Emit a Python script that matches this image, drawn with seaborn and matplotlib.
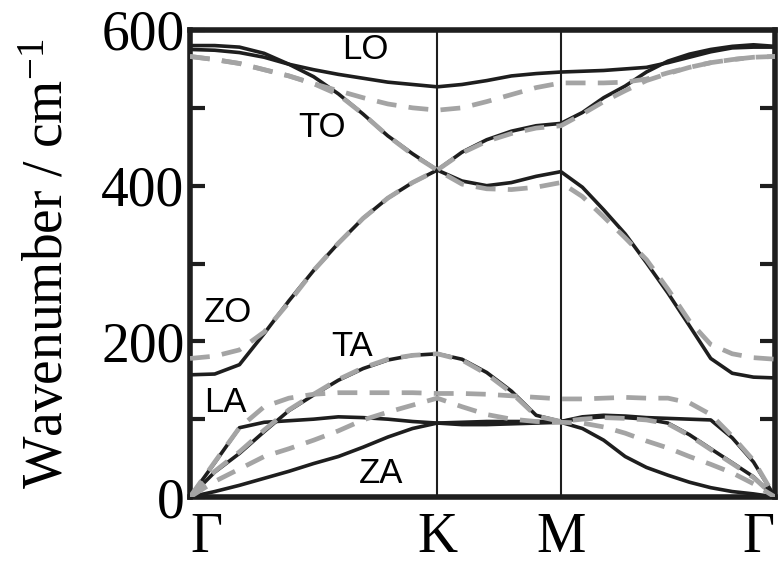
import matplotlib
matplotlib.use("Agg")
import matplotlib.pyplot as plt
import pandas as pd
import seaborn as sns

# Wave-vector path coordinate: Gamma -> K (0..1), K -> M (1..1.5), M -> Gamma (1.5..2.366)
q = [0.0, 0.1, 0.2, 0.3, 0.4, 0.5, 0.6, 0.7, 0.8, 0.9, 1.0,
     1.1, 1.2, 1.3, 1.4, 1.5,
     1.587, 1.673, 1.76, 1.846, 1.933, 2.02, 2.106, 2.193, 2.279, 2.366]

# Phonon branches (cm^-1), first calculation (solid)
za_solid = [0, 7, 15, 24, 33, 43, 52, 64, 77, 88, 95,
            93, 93, 94, 95, 96,
            88, 73, 52, 38, 28, 19, 12, 7, 4, 0]
ta_solid = [0, 32, 56, 84, 111, 131, 150, 165, 176, 182, 184,
            177, 160, 136, 105, 97,
            101, 103, 102, 100, 95, 80, 62, 44, 26, 0]
la_solid = [0, 44, 89, 96, 98, 100, 103, 102, 100, 97, 95,
            96, 97, 97, 97, 97,
            103, 105, 104, 102, 101, 100, 99, 76, 45, 0]
zo_solid = [157, 158, 170, 210, 252, 291, 326, 358, 384, 404, 420,
            443, 459, 470, 477, 480,
            494, 513, 528, 546, 560, 569, 575, 579, 581, 579]
to_solid = [580, 580, 578, 570, 556, 540, 518, 492, 464, 441, 420,
            406, 400, 404, 412, 418,
            398, 369, 338, 301, 262, 220, 178, 159, 154, 153]
lo_solid = [575, 574, 571, 565, 556, 549, 543, 538, 533, 530, 527,
            530, 535, 541, 544, 546,
            547, 548, 550, 552, 558, 565, 572, 577, 578, 578]

# Phonon branches (cm^-1), second calculation (dashed)
za_dashed = [0, 20, 36, 52, 62, 73, 85, 99, 109, 118, 127,
             116, 106, 100, 97, 96,
             95, 90, 82, 72, 63, 52, 42, 31, 17, 0]
ta_dashed = [0, 33, 58, 86, 112, 132, 151, 166, 177, 182, 184,
             176, 158, 134, 104, 97,
             100, 102, 101, 99, 94, 79, 61, 43, 25, 0]
la_dashed = [0, 45, 89, 116, 127, 132, 134, 134, 134, 134, 133,
             133, 132, 130, 128, 126,
             126, 127, 128, 127, 127, 121, 106, 78, 47, 0]
zo_dashed = [178, 181, 189, 212, 250, 291, 326, 358, 384, 404, 420,
             442, 457, 467, 474, 477,
             492, 508, 522, 535, 544, 552, 558, 562, 565, 566]
to_dashed = [566, 562, 557, 549, 541, 531, 517, 492, 464, 440, 420,
             402, 396, 395, 398, 404,
             386, 360, 333, 305, 267, 226, 196, 184, 179, 177]
lo_dashed = [566, 562, 557, 549, 541, 531, 522, 513, 505, 500, 497,
             500, 508, 517, 526, 532,
             532, 532, 533, 537, 545, 552, 558, 562, 565, 566]

path_ticks = [0.0, 1.0, 1.5, 2.366]
path_labels = ["Γ", "K", "M", "Γ"]

branch_names = ["ZO", "TA", "LA", "ZA", "TO", "LO"]
label_q = [0.154, 0.656, 0.142, 0.773, 0.534, 0.709]
label_freq = [237, 193, 122, 30, 475, 575]


def to_frame(branches):
    parts = []
    for name, vals in branches.items():
        parts.append(pd.DataFrame({"q": q, "freq": vals, "branch": name}))
    return pd.concat(parts, ignore_index=True)


solid = to_frame({"ZA": za_solid, "TA": ta_solid, "LA": la_solid,
                  "ZO": zo_solid, "TO": to_solid, "LO": lo_solid})
dashed = to_frame({"ZA": za_dashed, "TA": ta_dashed, "LA": la_dashed,
                   "ZO": zo_dashed, "TO": to_dashed, "LO": lo_dashed})

sns.set_theme(style="white")
plt.rcParams["font.family"] = ["Liberation Serif", "DejaVu Serif"]
plt.rcParams["mathtext.fontset"] = "custom"
plt.rcParams["mathtext.rm"] = "Liberation Serif"
plt.rcParams["mathtext.it"] = "Liberation Serif:italic"
plt.rcParams["mathtext.bf"] = "Liberation Serif:bold"

fig = plt.figure(figsize=(7.82, 5.64), dpi=100)
ax = fig.add_axes([190 / 782, 1 - 497 / 564, 585 / 782, 467 / 564])

dark = "#1e1e1e"
for xv in path_ticks[1:3]:
    ax.axvline(xv, color=dark, lw=1.5, zorder=1)

sns.lineplot(data=solid, x="q", y="freq", units="branch", estimator=None,
             sort=False, color=dark, lw=2.6, ax=ax, legend=False,
             solid_joinstyle="round", zorder=2)
sns.lineplot(data=dashed, x="q", y="freq", units="branch", estimator=None,
             sort=False, color="#a4a4a4", lw=3.4, ax=ax, legend=False,
             linestyle=(0, (4.2, 2.6)), zorder=3)

for name, xq, yf in zip(branch_names, label_q, label_freq):
    ax.text(xq, yf, name, ha="center", va="center", fontsize=25,
            family=["Liberation Sans", "DejaVu Sans"], color="black", zorder=4)

ax.set_xlim(0, path_ticks[-1])
ax.set_ylim(0, 600)
ax.set_xticks(path_ticks, path_labels)
ax.set_yticks([0, 200, 400, 600])
ax.set_yticks([100, 300, 500], minor=True)
ax.tick_params(axis="y", which="both", direction="in", length=11, width=3,
               left=True, right=True, color=dark, labelsize=40, pad=4,
               labelcolor="black")
ax.tick_params(axis="x", length=0, labelsize=40, pad=11, labelcolor="black")
xt = ax.get_xticklabels()
xt[0].set_ha("left")
xt[-1].set_ha("right")
ax.set_xlabel("")
ax.set_ylabel(r"$\mathrm{Wavenumber\ /\ cm^{-1}}$", fontsize=40, color="black")
ax.yaxis.set_label_coords(-0.197, 0.5)

for sp in ax.spines.values():
    sp.set_linewidth(4)
    sp.set_color(dark)

fig.savefig("out.png", dpi=100)
